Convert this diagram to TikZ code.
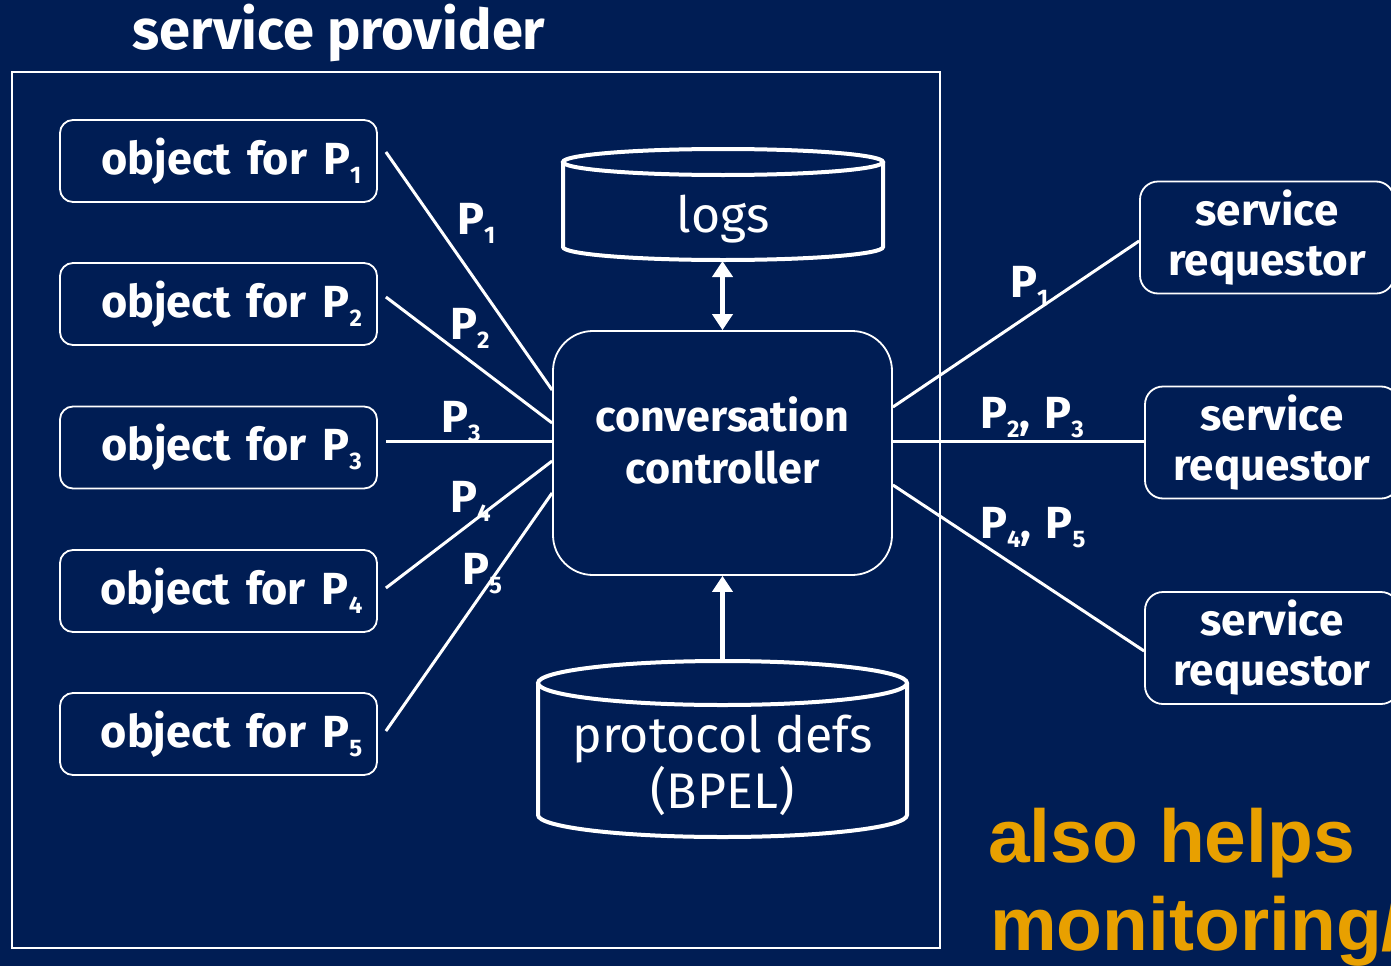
\documentclass[tikz,border=0pt]{standalone}
\usepackage{fontspec}
\setmainfont{Fira Sans}
\newfontfamily\notefont{Liberation Sans}
\usetikzlibrary{arrows.meta}
\definecolor{navy}{RGB}{0,29,84}
\definecolor{amber}{RGB}{232,160,0}
\newcommand{\psub}[1]{\raisebox{-9pt}{\fontsize{24}{24}\selectfont #1}}
\newcommand{\widewords}{\spaceskip 16pt\relax}
\newcommand{\labelwords}{\spaceskip 14pt\relax}
\tikzset{
  every node/.style={text=white},
  objbox/.style={draw=white, line width=1.8pt, rounded corners=13pt,
    minimum width=317pt, minimum height=82pt, inner sep=0pt,
    font=\bfseries\fontsize{45}{50}\selectfont\widewords},
  reqbox/.style={draw=white, line width=1.8pt, rounded corners=18pt,
    minimum width=254pt, minimum height=112pt, inner sep=0pt, align=center,
    font=\bfseries\fontsize{44}{50}\selectfont},
  ctrlbox/.style={draw=white, line width=1.8pt, rounded corners=40pt,
    minimum width=339pt, minimum height=244pt},
  link/.style={draw=white, line width=3pt},
  plabel/.style={anchor=base west, inner sep=0pt, font=\bfseries\fontsize{45}{50}\selectfont\labelwords},
  drum/.style={draw=white, line width=4pt},
  feed/.style={draw=white, line width=5pt},
  headtip/.tip={Triangle[width=20pt,length=16pt]},
  note/.style={anchor=base west, inner sep=0pt, text=amber,
    font=\notefont\bfseries\fontsize{75}{80}\selectfont},
}
\begin{document}
\begin{tikzpicture}[x=1pt,y=1pt]
  \useasboundingbox (0,0) rectangle (1391,-966);
  \fill[navy] (0,0) rectangle (1391,-966);
  \clip (0,0) rectangle (1391,-966);

  % provider frame and its title
  \draw[white, line width=1.8pt] (12,-72) rectangle (940,-948);
  \node[anchor=base, inner sep=0pt, font=\bfseries\fontsize{56}{60}\selectfont] (title) at (339,-50) {service provider};

  % protocol objects
  \node[objbox] (o1) at (218.5,-161) {\hspace*{26pt}object for P\psub{1}};
  \node[objbox] (o2) at (218.5,-304) {\hspace*{26pt}object for P\psub{2}};
  \node[objbox] (o3) at (218.5,-447.5) {\hspace*{26pt}object for P\psub{3}};
  \node[objbox] (o4) at (218.5,-591) {\hspace*{26pt}object for P\psub{4}};
  \node[objbox] (o5) at (218.5,-734) {\hspace*{26pt}object for P\psub{5}};

  % conversation controller
  \node[ctrlbox] (ctrl) at (722.5,-453) {};
  \node[align=center, inner sep=0pt, font=\bfseries\fontsize{43}{52}\selectfont] (ctrltext) at (722.5,-440) {conversation\\controller};

  % logs store
  \draw[drum] (563,-162) -- (563,-247) arc[start angle=180, end angle=360, x radius=160, y radius=13] -- (883,-162);
  \draw[drum] (723,-162) ellipse[x radius=160, y radius=13];
  \node[anchor=base, inner sep=0pt, font=\fontsize{50}{56}\selectfont] (logs) at (723,-232) {logs};
  \coordinate (logsbase) at (722.5,-261);

  % protocol definitions store
  \draw[drum] (538,-683) -- (538,-815) arc[start angle=180, end angle=360, x radius=184.5, y radius=22] -- (907,-683);
  \draw[drum] (722.5,-683) ellipse[x radius=184.5, y radius=22];
  \node[align=center, inner sep=0pt, font=\fontsize{50}{56}\selectfont] (defs) at (722.5,-765) {protocol defs\\(BPEL)};
  \coordinate (defstop) at (722.5,-660);

  % data flow to and from the stores
  \draw[feed, headtip-headtip] (logsbase) -- (ctrl.north);
  \draw[feed, -headtip] (defstop) -- (ctrl.south);

  % requestors
  \node[reqbox] (r1) at (1267,-237.5) {service\\requestor};
  \node[reqbox] (r2) at (1272,-442.5) {service\\requestor};
  \node[reqbox] (r3) at (1272,-648) {service\\requestor};

  % conversations between objects and the controller
  \draw[link] ([xshift=8pt,yshift=9pt]o1.east) -- ([yshift=63pt]ctrl.west);
  \draw[link] ([xshift=8pt,yshift=7pt]o2.east) -- ([yshift=30pt]ctrl.west);
  \draw[link] ([xshift=8pt,yshift=6.5pt]o3.east) -- ([yshift=12pt]ctrl.west);
  \draw[link] ([xshift=8pt,yshift=3pt]o4.east) -- ([yshift=-8pt]ctrl.west);
  \draw[link] ([xshift=8pt,yshift=3pt]o5.east) -- ([yshift=-40pt]ctrl.west);
  \node[plabel] (l1) at (457,-234) {P\psub{1}};
  \node[plabel] (l2) at (450,-339) {P\psub{2}};
  \node[plabel] (l3) at (441,-432) {P\psub{3}};
  \node[plabel] (l4) at (450,-512) {P\psub{4}};
  \node[plabel] (l5) at (462,-584) {P\psub{5}};

  % conversations between the controller and the requestors
  \draw[link] ([yshift=46pt]ctrl.east) -- ([yshift=-3.5pt]r1.west);
  \draw[link] ([yshift=12pt]ctrl.east) -- ([yshift=1.5pt]r2.west);
  \draw[link] ([yshift=-32pt]ctrl.east) -- ([yshift=-3pt]r3.west);
  \node[plabel] (m1) at (1010,-297) {P\psub{1}};
  \node[plabel] (m2) at (980,-428) {P\psub{2}, P\psub{3}};
  \node[plabel] (m3) at (980,-538) {P\psub{4}, P\psub{5}};

  % side note
  \node[note] (n1) at (988,-862) {also helps};
  \node[note] (n2) at (990,-950) {monitoring/};
\end{tikzpicture}
\end{document}
